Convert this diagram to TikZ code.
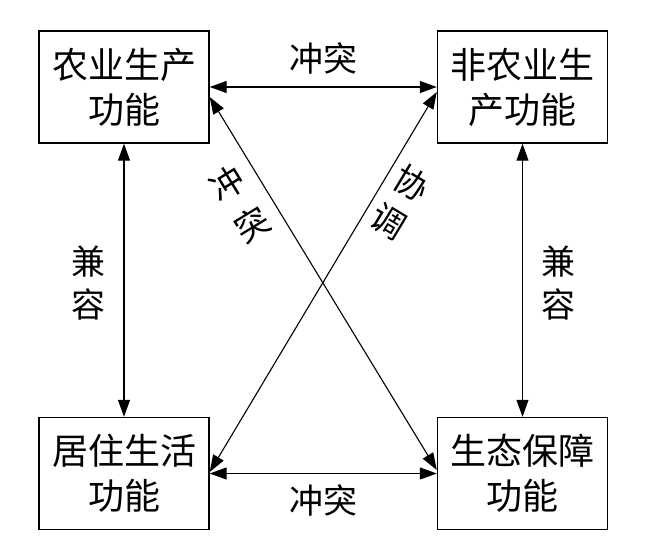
\documentclass[tikz,border=0pt]{standalone}
\usepackage{fontspec}
\setmainfont{Noto Sans CJK SC}
\usetikzlibrary{arrows.meta}
\tikzset{
  fbox/.style={draw, line width=1.4pt, minimum width=170pt, minimum height=112pt, inner sep=0pt, align=center, font=\fontsize{36}{45}\selectfont},
  conn/.style={line width=1.1pt, {Triangle[length=17pt,width=12pt]}-{Triangle[length=17pt,width=12pt]}},
  lbl/.style={inner sep=0pt, align=center, font=\fontsize{34}{43}\selectfont}
}
\begin{document}
\begin{tikzpicture}[x=1pt,y=-1pt]
\useasboundingbox (0,0) rectangle (650,554);
\node[fbox] (TL) at (124,87) {农业生产\\功能};
\node[fbox] (TR) at (522.5,87) {非农业生\\产功能};
\node[fbox] (BL) at (124,473.5) {居住生活\\功能};
\node[fbox] (BR) at (522.5,473.5) {生态保障\\功能};
\draw[conn] (TL.east) -- (TR.west);
\draw[conn] (BL.east) -- (BR.west);
\draw[conn] (TL.south) -- (BL.north);
\draw[conn] (TR.south) -- (BR.north);
\draw[conn] ([yshift=-10pt]TL.east) -- ([yshift=3.5pt]BR.west);
\draw[conn] ([yshift=1.5pt]BL.east) -- ([yshift=-5pt]TR.west);
\node[lbl] (l1) at (323,58) {冲突};
\node[lbl] (l2) at (323,500) {冲突};
\node[lbl] (l3) at (88,283) {兼\\容};
\node[lbl] (l4) at (558,283) {兼\\容};
\node[lbl, rotate=31.5, font=\fontsize{34}{48}\selectfont] (l5) at (239.5,204) {冲\\突};
\node[lbl, rotate=-31, font=\fontsize{34}{44}\selectfont] (l6) at (400,202) {协\\调};
\end{tikzpicture}
\end{document}
